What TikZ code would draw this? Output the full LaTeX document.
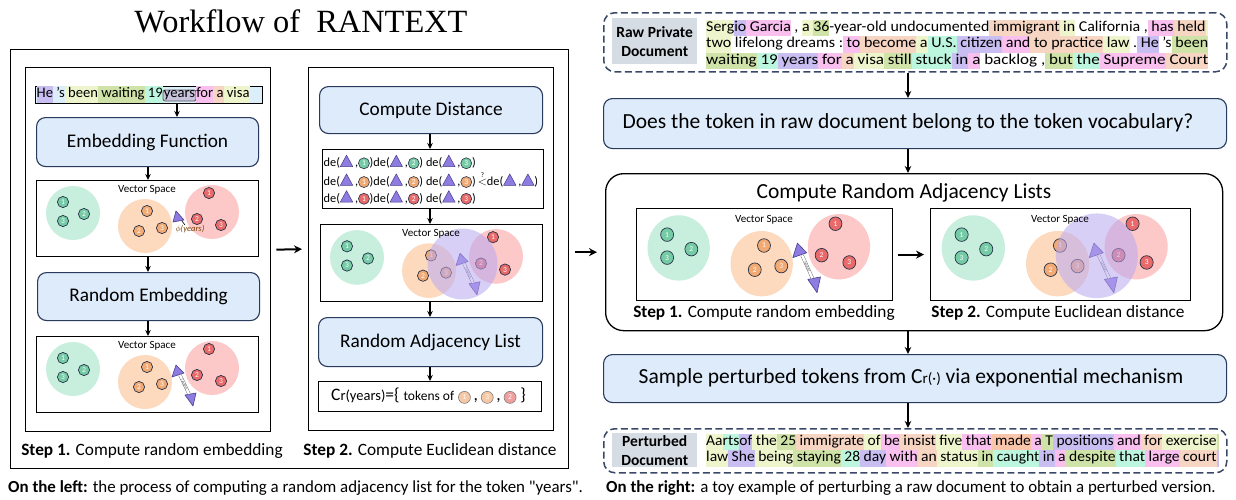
\documentclass[tikz,border=0pt]{standalone}
\usepackage{graphicx}
\usepackage{fontspec}
\setmainfont{Carlito}
\newfontfamily\titlefont{Liberation Serif}
\usetikzlibrary{arrows.meta}

% palette
\definecolor{navy}{HTML}{2A3A5C}
\definecolor{navy2}{HTML}{3A4868}
\definecolor{lblue}{HTML}{DEEBFA}
\definecolor{lgray}{HTML}{D6DCE4}
\definecolor{gbig}{HTML}{C8EEDE}
\definecolor{obig}{HTML}{FDD9BE}
\definecolor{rbig}{HTML}{FCC8C8}
\definecolor{gsm}{HTML}{74CBA6}
\definecolor{osm}{HTML}{F2AA74}
\definecolor{rsm}{HTML}{E86A6A}
\definecolor{smdraw}{HTML}{283246}
\definecolor{trifill}{HTML}{8E7CE0}
\definecolor{tridraw}{HTML}{4A3C8C}
\definecolor{povl}{HTML}{B8A8F2}
\definecolor{phic}{HTML}{7A3E00}
% token highlight colours
\definecolor{tP}{HTML}{C9BEF2}
\definecolor{tY}{HTML}{EEF5CC}
\definecolor{tG}{HTML}{CFE3A8}
\definecolor{tM}{HTML}{BDF6DE}
\definecolor{tK}{HTML}{F9BFEF}
\definecolor{tO}{HTML}{F6D5C3}
\definecolor{tS}{HTML}{F8C4AA}
\definecolor{tB}{HTML}{DDEEFB}
\definecolor{yrs}{HTML}{C8C3DD}

% highlighted token
\newcommand{\tok}[2]{{\setlength{\fboxsep}{0pt}\colorbox{#1}{\strut #2}}}
% a line of tokens stretched horizontally to a given width
\newcommand{\tokline}[2]{\resizebox{#1}{\height}{#2}}
% inline glyphs
\newcommand{\mytri}{\tikz[baseline=0pt,x=1pt,y=1pt]\filldraw[fill=trifill,draw=tridraw,line width=0.5pt,line join=round](0,0)--(12.5,0)--(6.25,11.5)--cycle;}
\newcommand{\numcirc}[2]{\tikz[baseline=-3.4pt]\node[circle,fill=#1,draw=smdraw,line width=0.6pt,inner sep=0pt,minimum size=11pt,text=white,font=\fontsize{7.5}{8}\selectfont]{#2};}
\newcommand{\numcircf}[2]{\tikz[baseline=-3.6pt]\node[circle,fill=#1!65,draw=gray,line width=0.6pt,inner sep=0pt,minimum size=12pt,text=white,font=\fontsize{7.5}{8}\selectfont]{#2};}
\newcommand{\yearsbox}{\tikz[baseline=(yb.base)]\node[draw=gray!70!black,fill=yrs,rounded corners=2pt,inner sep=0.8pt,line width=0.8pt](yb){years};}

% small numbered dot of a cluster
\newcommand{\smcirc}[3]{\filldraw[fill=#1,draw=smdraw,line width=0.7pt](#2) circle[radius=5.6]; \node[numlbl] at (#2) {#3};}
% two embeddings joined by a random shift
\newcommand{\randpair}{%
  \filldraw[trist] (140,29)--(136,41)--(148,37)--cycle;
  \filldraw[trist] (157,70)--(149,59)--(160,57)--cycle;
  \draw[draw=black!65,line width=0.4pt,double=white,double distance=2.4pt] (144,39) -- node[randlbl,sloped]{random} (153,58);}
% vector space content, local frame 222 x 76
\newcommand{\VecSp}[5]{%
\begin{scope}[shift={(#1,#2)},xscale=#3,yscale=#4]
  \fill[gbig] (37,33) circle[radius=27];
  \fill[obig] (109,46) circle[radius=27];
  \fill[rbig] (176,32) circle[radius=27];
  \smcirc{gsm}{27,22}{1}\smcirc{gsm}{27,41}{3}\smcirc{gsm}{48,34}{2}
  \smcirc{osm}{111,31}{1}\smcirc{osm}{103,51}{2}\smcirc{osm}{126,48}{3}
  \smcirc{rsm}{173,13}{1}\smcirc{rsm}{161,39}{2}\smcirc{rsm}{185,45}{3}
  \ifcase#5
    \filldraw[trist] (140,31)--(137,42)--(148,40)--cycle;
    \draw[line width=0.6pt] (146,41)--(149,45);
    \node[philbl] at (154,49) {$\phi$(years)};
  \or
    \randpair
  \or
    \randpair
    \fill[povl,fill opacity=0.55] (142.5,39.5) circle[radius=35];
  \fi
  \node[vslbl] at (111,10) {Vector Space};
\end{scope}}

\begin{document}
\begin{tikzpicture}[x=1pt,y=-1pt,
  panel/.style={draw=black,line width=1.3pt,inner sep=0pt},
  bluebox/.style={draw=navy,fill=lblue,rounded corners=9pt,line width=1.1pt,inner sep=0pt,font=\fontsize{19.3}{23}\selectfont},
  widebox/.style={draw=navy,fill=lblue,rounded corners=9pt,line width=1.1pt,inner sep=0pt},
  vsbox/.style={draw=black,line width=1.2pt,fill=white,inner sep=0pt},
  arr/.style={-{Stealth[length=6pt,width=5.5pt]},line width=1.3pt},
  rarr/.style={-{Stealth[length=7pt,width=6.5pt]},line width=1.6pt},
  bigarr/.style={-{Stealth[length=8pt,width=8pt]},line width=2pt},
  dashbox/.style={draw=navy2,dash pattern=on 7pt off 3.5pt,rounded corners=11pt,line width=1.5pt,inner sep=0pt},
  graylbl/.style={fill=lgray,inner sep=0pt,align=center,font=\bfseries\fontsize{15.5}{19}\selectfont},
  steplbl/.style={font=\fontsize{17.3}{20}\selectfont,inner sep=0pt},
  caplbl/.style={font=\fontsize{16.9}{20}\selectfont,anchor=west,inner sep=0pt},
  bigtxt/.style={font=\fontsize{21.5}{25}\selectfont,inner sep=0pt},
  vslbl/.style={font=\fontsize{11}{12}\selectfont,inner sep=0pt},
  numlbl/.style={font=\fontsize{7.5}{8}\selectfont,text=white,inner sep=0pt},
  philbl/.style={font=\itshape\fontsize{8.5}{10}\selectfont,text=phic,inner sep=0pt},
  randlbl/.style={font=\fontsize{3.5}{4}\selectfont,inner sep=0pt,text=black!70},
  trist/.style={fill=trifill,draw=tridraw,line width=0.6pt,line join=round},
  toktxt/.style={font=\fontsize{15}{16.5}\selectfont,anchor=west,inner sep=0pt},
  derow/.style={font=\fontsize{12.3}{14}\selectfont,anchor=west,inner sep=0pt}]
\useasboundingbox (0,0) rectangle (1236,499);

% ---------------- left half ----------------
\node[font=\titlefont\fontsize{32.4}{36}\selectfont] (title) at (301,21) {Workflow of\ \ RANTEXT};
\node[panel,minimum width=558,minimum height=419,anchor=north west] (lo) at (10,49) {};
\node[panel,minimum width=245,minimum height=364,anchor=north west] (lp) at (25,67) {};
\node[panel,minimum width=245,minimum height=363,anchor=north west] (mp) at (308,67) {};

\coordinate (lx) at (148,0);
\coordinate (yx) at (177,0);
\coordinate (mx) at (430,0);
\coordinate (rx) at (908,0);

% step 1 column
\node[draw=black,line width=1.2pt,fill=tB,inner sep=0pt,minimum width=227,minimum height=17,anchor=north west] (sent) at (35,86) {};
\node[font=\fontsize{14.6}{17}\selectfont,anchor=west,inner sep=0pt] (senttxt) at (36.5,94.5)
  {\tok{tP}{He}\tok{tB}{\ 's}\tok{tY}{\ been}\tok{tG}{\ waiting}\tok{tM}{\ 19}\yearsbox\tok{tK}{for}\tok{tO}{\ a}\tok{tY}{\ visa}};
\node[bluebox,minimum width=222,minimum height=49,anchor=north west] (embf) at (36,117) {Embedding Function};
\node[vsbox,minimum width=222,minimum height=76,anchor=north west] (vs1) at (36,180) {};
\VecSp{36}{180}{1}{1}{0}
\node[bluebox,minimum width=222,minimum height=48,anchor=north west] (remb) at (37,272) {Random Embedding};
\node[vsbox,minimum width=222,minimum height=76,anchor=north west] (vs2) at (36,336) {};
\VecSp{36}{336}{1}{1}{1}
\draw[arr] (sent.south -| yx) -- (embf.north -| yx);
\draw[arr] (embf.south -| lx) -- (vs1.north -| lx);
\draw[arr] (vs1.south -| lx) -- (remb.north -| lx);
\draw[arr] (remb.south -| lx) -- (vs2.north -| lx);
\node[steplbl] (st1) at (152,451) {\textbf{Step 1.} Compute random embedding};

% step 2 column
\node[bluebox,minimum width=223,minimum height=47,anchor=north west] (cdist) at (319,86) {Compute Distance};
\node[vsbox,minimum width=221,minimum height=59,anchor=north west] (debox) at (322,149) {};
\node[derow] (d1) at (323.5,162) {de(\mytri\,,\numcirc{gsm}{1})de(\mytri\,,\numcirc{gsm}{2}) de(\mytri\,,\numcirc{gsm}{3})};
\node[derow] (d2) at (323.5,180) {de(\mytri\,,\numcirc{osm}{1})de(\mytri\,,\numcirc{osm}{2}) de(\mytri\,,\numcirc{osm}{3})\,$\stackrel{\raisebox{-1pt}{\scriptsize ?}}{<}$de(\mytri\,,\mytri)};
\node[derow] (d3) at (323.5,197.5) {de(\mytri\,,\numcirc{rsm}{1})de(\mytri\,,\numcirc{rsm}{2}) de(\mytri\,,\numcirc{rsm}{3})};
\node[vsbox,minimum width=222,minimum height=77,anchor=north west] (vs3) at (320,224) {};
\VecSp{320}{224}{1}{1.013}{2}
\node[bluebox,minimum width=224,minimum height=49,anchor=north west] (radj) at (318,317) {Random Adjacency List};
\node[vsbox,minimum width=223,minimum height=30,anchor=north west] (crbox) at (318,381) {};
\node[font=\fontsize{17.5}{19}\selectfont,anchor=west,inner sep=0pt] (crtxt) at (331,396)
  {C{\fontsize{14.5}{16}\selectfont r(years)}=\{ {\fontsize{13.5}{15}\selectfont tokens of} \numcircf{osm}{1}\,,\,\numcircf{osm}{3}\,,\,\numcircf{rsm}{2} \}};
\draw[arr] (cdist.south -| mx) -- (debox.north -| mx);
\draw[arr] (debox.south -| mx) -- (vs3.north -| mx);
\draw[arr] (vs3.south -| mx) -- (radj.north -| mx);
\draw[arr] (radj.south -| mx) -- (crbox.north -| mx);
\node[steplbl] (st2) at (430,451) {\textbf{Step 2.} Compute Euclidean distance};

\draw[bigarr] ([xshift=5pt]lp.east) -- ([xshift=-6pt]mp.west);
\node[caplbl] (capl) at (8,488) {\textbf{On the left:} the process of computing a random adjacency list for the token \textquotedbl years\textquotedbl.};

% ---------------- right half ----------------
\node[dashbox,minimum width=623,minimum height=59,anchor=north west] (raw) at (603,12) {};
\node[graylbl,minimum width=85,minimum height=46,anchor=north west] (rawlbl) at (612,18) {Raw Private\\Document};
\node[toktxt] (raw1) at (706,28) {\tokline{502pt}{\tok{tY}{Serg}\tok{tP}{io}\tok{tK}{\ Garcia}\ ,\ \tok{tY}{a\ }\tok{tG}{36}-year-old undocumented\tok{tO}{\ immigrant}\tok{tY}{\ in}\ California\ ,\tok{tK}{\ has}\tok{tO}{\ held}\tok{tY}{\,}}};
\node[toktxt] (raw2) at (706,44.5) {\tokline{502pt}{\tok{tY}{two}\ lifelong dreams\ :\tok{tK}{\ to}\tok{tO}{\ become}\tok{tY}{\ a}\tok{tM}{\ U.S.}\tok{tP}{\ citizen}\tok{tK}{\ and}\tok{tO}{\ to}\tok{tO}{\ practice}\tok{tY}{\ law}\ .\tok{tP}{\ He}\ 's\tok{tG}{\ been}}};
\node[toktxt] (raw3) at (706,61) {\tokline{502pt}{\tok{tG}{waiting}\tok{tM}{\ 19}\tok{tP}{\ years}\tok{tK}{\ for}\tok{tO}{\ a}\tok{tY}{\ visa}\tok{tG}{\ still}\tok{tM}{\ stuck}\tok{tP}{\ in}\tok{tK}{\ a}\ backlog\ ,\tok{tG}{\ but}\tok{tM}{\ the}\tok{tK}{\ Supreme}\tok{tO}{\ Court}}};

\node[widebox,minimum width=623,minimum height=50,anchor=north west] (vocab) at (603,98) {};
\node[bigtxt] (vocabt) at (908,123) {Does the token in raw document belong to the token vocabulary?};

\node[draw=black,line width=1.3pt,rounded corners=18pt,minimum width=617,minimum height=157,inner sep=0pt,anchor=north west] (crl) at (605,173) {};
\node[bigtxt] (crlt) at (904,193) {Compute Random Adjacency Lists};
\node[vsbox,minimum width=256,minimum height=92,anchor=north west] (vsr1) at (636,208) {};
\VecSp{636}{208}{1.153}{1.21}{1}
\node[vsbox,minimum width=260,minimum height=92,anchor=north west] (vsr2) at (930,208) {};
\VecSp{930}{208}{1.171}{1.21}{2}
\draw[bigarr] ([xshift=5pt]vsr1.east) -- ([xshift=-6pt]vsr2.west);
\node[steplbl] (st3) at (764,313) {\textbf{Step 1.} Compute random embedding};
\node[steplbl] (st4) at (1058,313) {\textbf{Step 2.} Compute Euclidean distance};

\node[widebox,minimum width=623,minimum height=48,anchor=north west] (samp) at (603,354) {};
\node[bigtxt] (sampt) at (911,378) {Sample perturbed tokens from C{\fontsize{15}{17}\selectfont r(·)} via exponential mechanism};

\node[dashbox,minimum width=623,minimum height=44,anchor=north west] (pert) at (603,428) {};
\node[graylbl,minimum width=85,minimum height=34,anchor=north west] (pertlbl) at (612,433) {Perturbed\\Document};
\node[toktxt] (pert1) at (706,442) {\tokline{513pt}{\tok{tY}{Aa}\tok{tM}{rts}\tok{tP}{of}\tok{tY}{\ the}\tok{tG}{\ 25}\tok{tO}{\ immigrate}\tok{tY}{\ of}\tok{tK}{\ be}\tok{tO}{\ insist}\tok{tY}{\ five}\tok{tK}{\ that}\tok{tS}{\ made}\tok{tK}{\ a}\tok{tG}{\ T}\tok{tP}{\ positions}\tok{tK}{\ and}\tok{tO}{\ for}\tok{tY}{\ exercise}\tok{tG}{\,}}};
\node[toktxt] (pert2) at (706,458.5) {\tokline{513pt}{\tok{tY}{law}\tok{tP}{\ She}\tok{tY}{\ being}\tok{tG}{\ staying}\tok{tM}{\ 28}\tok{tP}{\ day}\tok{tK}{\ with}\tok{tO}{\ an}\tok{tY}{\ status}\tok{tG}{\ in}\tok{tM}{\ caught}\tok{tP}{\ in}\tok{tK}{\ a}\tok{tG}{\ despite}\tok{tM}{\ that}\tok{tK}{\ large}\tok{tO}{\ court}\tok{tP}{\,}}};

\draw[rarr] (raw.south -| rx) -- (vocab.north -| rx);
\draw[rarr] (vocab.south -| rx) -- (crl.north -| rx);
\draw[rarr] (crl.south -| rx) -- (samp.north -| rx);
\draw[rarr] (samp.south -| rx) -- (pert.north -| rx);
\coordinate (ra) at ([xshift=6pt]lo.east);
\draw[bigarr] (ra |- crl.west) -- ([xshift=-8pt]crl.west);

\node[caplbl] (capr) at (606,488) {\textbf{On the right:} a toy example of perturbing a raw document to obtain a perturbed version.};
\end{tikzpicture}
\end{document}
